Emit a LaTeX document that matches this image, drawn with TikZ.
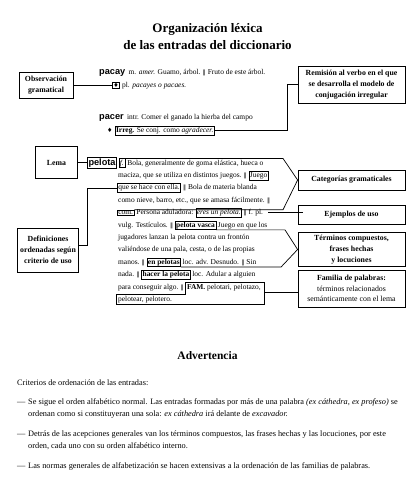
\documentclass[tikz,border=0pt]{standalone}
\usepackage{fontspec}
\setmainfont{Liberation Serif}
\newfontfamily\hwfont{Liberation Sans}
\newfontfamily\symfont{DejaVu Sans}
\usetikzlibrary{calc}
\newcommand\dfont{\fontsize{7.45}{9}\selectfont}
\newcommand\lfont{\fontsize{7.8}{10.8}\selectfont\bfseries}
\newcommand\bfont{\fontsize{8.3}{10}\selectfont}
\newcommand\hwf{\hwfont\bfseries\fontsize{9.2}{10}\selectfont}
\newcommand\dbar{{\symfont\fontsize{6}{6}\selectfont ‖}}
\newcommand\dia{{\symfont\fontsize{6}{6}\selectfont ♦}}
\begin{document}
\begin{tikzpicture}[x=1pt,y=-1pt,
  dt/.style={inner sep=0pt,anchor=base west,font=\dfont},
  db/.style={draw,line width=.6pt,inner sep=1pt,anchor=base west,font=\dfont},
  lab/.style={draw,line width=.8pt,align=center,font=\lfont,inner sep=1pt},
  conn/.style={line width=.7pt},
  bt/.style={inner sep=0pt,anchor=base west,font=\bfont}]
\useasboundingbox (0,0) rectangle (415,500);

% title
\node[anchor=base,font=\fontsize{13}{15}\selectfont\bfseries] (t1) at (207.5,32.5) {Organización léxica};
\node[anchor=base,font=\fontsize{13}{15}\selectfont\bfseries] (t2) at (207.5,49.5) {de las entradas del diccionario};

% label boxes
\node[lab,minimum width=54,minimum height=26] (obs) at (46,85) {Observación\\gramatical};
\node[lab,minimum width=42,minimum height=32] (lema) at (56.5,162.5) {Lema};
\node[lab,minimum width=61,minimum height=44] (def) at (48,250) {Definiciones\\ordenadas según\\criterio de uso};
\node[lab,minimum width=107,minimum height=37] (rem) at (351.5,84.5) {Remisión al verbo en el que\\se desarrolla el modelo de\\conjugación irregular};
\node[lab,minimum width=107,minimum height=20] (cat) at (351.5,180) {Categorías gramaticales};
\node[lab,minimum width=107,minimum height=19] (ejem) at (351.5,214.5) {Ejemplos de uso};
\node[lab,minimum width=107,minimum height=34] (term) at (351.5,249.5) {Términos compuestos,\\frases hechas\\y locuciones};
\node[lab,minimum width=107,minimum height=37] (famil) at (351.5,288.5) {Familia de palabras:\\\mdseries términos relacionados\\\mdseries semánticamente con el lema};

% pacay
\node[dt,font=\hwf] (pacay) at (99,74.5) {pacay};
\node[dt] (pacayt) at ([xshift=3pt]pacay.base east) {m. \textit{amer.} Guamo, árbol. \dbar\ Fruto de este árbol.};
\node[db] (dia1) at (112,87.5) {\dia};
\node[dt] (pacay2) at ([xshift=2pt]dia1.base east) {pl. \textit{pacayes o pacaes.}};

% pacer
\node[dt,font=\hwf] (pacer) at (99,119.5) {pacer};
\node[dt] (pacert) at ([xshift=3pt]pacer.base east) {intr. Comer el ganado la hierba del campo};
\node[dt] (dia2) at (107,132.5) {\dia};
\node[db] (irreg) at ([xshift=2pt]dia2.base east) {\textbf{Irreg.} Se conj. como \textit{agradecer.}};

% pelota
\node[db,font=\hwf,inner sep=1.2pt] (pelota) at (87,165) {pelota};
\node[db] (f) at ([xshift=1.5pt]pelota.base east) {\textit{f.}};
\node[dt] (l0) at ([xshift=2pt]f.base east) {Bola, generalmente de goma elástica, hueca o};
\node[dt] (l1) at (118,177.4) {maciza, que se utiliza en distintos juegos. \dbar};
\node[db] (juego) at ([xshift=1.5pt]l1.base east) {Juego};
\node[db] (que) at (117,189.8) {que se hace con ella.};
\node[dt] (l2) at ([xshift=2pt]que.base east) {\dbar\ Bola de materia blanda};
\node[dt] (l3) at (118,202.2) {como nieve, barro, etc., que se amasa fácilmente. \dbar};
\node[db] (com) at (117,214.6) {com.};
\node[dt] (l4a) at ([xshift=2pt]com.base east) {Persona aduladora:};
\node[db] (eres) at ([xshift=2pt]l4a.base east) {\textit{eres un pelota.}};
\node[dt] (l4c) at ([xshift=1.5pt]eres.base east) {\dbar\ f. pl.};
\node[dt] (l5) at (118,227) {vulg. Testículos. \dbar};
\node[db] (vasca) at ([xshift=1.5pt]l5.base east) {\textbf{pelota vasca}};
\node[dt] (l5b) at ([xshift=1.5pt]vasca.base east) {Juego en que los};
\node[dt] (l6) at (118,239.4) {jugadores lanzan la pelota contra un frontón};
\node[dt] (l7) at (118,251.8) {valiéndose de una pala, cesta, o de las propias};
\node[dt] (l8) at (118,264.2) {manos. \dbar};
\node[db] (enp) at ([xshift=1.5pt]l8.base east) {\textbf{en pelotas}};
\node[dt] (l8b) at ([xshift=1.5pt]enp.base east) {loc. adv. Desnudo. \dbar\ Sin};
\node[dt] (l9) at (118,276.6) {nada. \dbar};
\node[db] (hacer) at ([xshift=1.5pt]l9.base east) {\textbf{hacer la pelota}};
\node[dt] (l9b) at ([xshift=1.5pt]hacer.base east) {loc. Adular a alguien};
\node[dt] (l10) at (118,289) {para conseguir algo. \dbar};
\node[dt,inner sep=1.3pt] (fam) at ([xshift=1.5pt]l10.base east) {\textbf{FAM.} pelotari, pelotazo,};
\node[dt,inner sep=1.3pt] (pel) at (116.7,301.4) {pelotear, pelotero.};

% helper coordinates
\coordinate (rx) at (287,0);
\coordinate (dx) at (87,0);
\coordinate (kx) at (283,0);
\coordinate (kxa) at (285,0);
\coordinate (kxb) at (281,0);
\coordinate (kf) at (264,0);

% connectors
\draw[conn] (obs.east) -- (obs.east -| dia1.west);
\draw[conn] (irreg.east) -- (irreg.east -| rx) -- (rx |- rem.west) -- (rem.west);
\draw[conn] (lema.east) -- (lema.east -| pelota.west);
\draw[conn] ([yshift=5pt]def.east) -- ([yshift=5pt]def.east -| dx) -- (dx |- que.west) -- (que.west);
\draw[conn] (f.north east) -- (f.north east -| kx) -- (cat.west) -- (com.north east -| kx) -- (com.north east);
\draw[conn] ([xshift=5pt]l4c.east) -- ([xshift=5pt]l4c.east -| ejem.west);
\draw[conn] (vasca.south east) -- (vasca.south east -| kxa) -- (term.west) -- (enp.south east -| kxb) -- (enp.south east);
\draw[conn] (fam.north west) -- (fam.north west -| kf) -- (kf |- pel.south) -- (pel.south west) -- (pel.north west) -- (pel.north west -| fam.west) -- cycle;
\draw[conn] (kf |- fam.south) -- (fam.south -| famil.west);

% Advertencia
\node[anchor=base,font=\fontsize{11.5}{13}\selectfont\bfseries] (adv) at (207.5,359) {Advertencia};
\node[bt] (crit) at (17,385.5) {Criterios de ordenación de las entradas:};
\node[bt] (d1) at (17,404.5) {—};
\node[bt] (p1a) at (28,404.5) {Se sigue el orden alfabético normal. Las entradas formadas por más de una palabra \textit{(ex cáthedra, ex profeso)} se};
\node[bt] (p1b) at (28,416.5) {ordenan como si constituyeran una sola: \textit{ex cáthedra} irá delante de \textit{excavador.}};
\node[bt] (d2) at (17,436.5) {—};
\node[bt] (p2a) at (28,436.5) {Detrás de las acepciones generales van los términos compuestos, las frases hechas y las locuciones, por este};
\node[bt] (p2b) at (28,448.5) {orden, cada uno con su orden alfabético interno.};
\node[bt] (d3) at (17,468.5) {—};
\node[bt] (p3) at (28,468.5) {Las normas generales de alfabetización se hacen extensivas a la ordenación de las familias de palabras.};
\end{tikzpicture}
\end{document}
